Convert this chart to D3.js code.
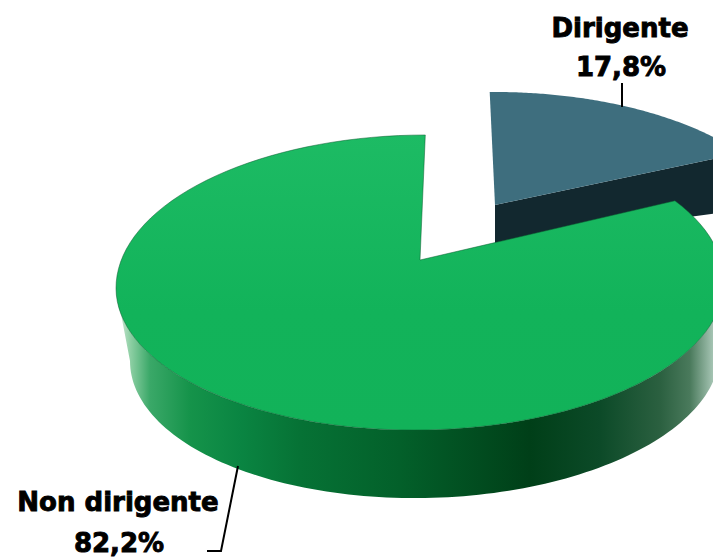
<!DOCTYPE html>
<html>
<head>
<meta charset="utf-8">
<script src="https://cdn.jsdelivr.net/npm/d3@7"></script>
<style>
  html, body { margin: 0; padding: 0; background: #fff; overflow: hidden; }
  text { font-family: "DejaVu Sans", sans-serif; font-weight: bold; font-size: 26px; fill: #000; stroke: #000; stroke-width: 0.9px; text-anchor: middle; }
</style>
</head>
<body>
<script>
// data
const categories = ["Non dirigente", "Dirigente"]
const values = [82.2, 17.8]
const valueLabels = ["82,2%", "17,8%"]

const width = 713
const height = 558

// picture angle (degrees) each slice sweeps once the 3d view has distorted it
const sweeps = [[57, 361], [359, 414]]
const topColors = ["url(#greenTop)", "#3e6e7e"]
const wallColors = ["url(#greenWall)", "#12282f"]

// ellipses of the rim, top face and bottom face
const greenTop = { cx: 420, cy: 285, rx: 304, ryBack: 150, ryFront: 145, tilt: -3 }
const greenBottom = { cx: 425, cy: 356, rx: 295, ryBack: 142, ryFront: 142, tilt: -5 }
const blueTop = { cx: 495, cy: 240, rx: 304, ryBack: 148, ryFront: 148, tilt: 0 }
const greenApex = [420, 260]
const blueApex = [495, 205]
const blueDepth = 38

const svg = d3.select("body").append("svg")
    .attr("width", width)
    .attr("height", height)

const defs = svg.append("defs")

defs.append("linearGradient")
    .attr("id", "greenTop")
    .attr("gradientUnits", "userSpaceOnUse")
    .attr("x1", 0).attr("y1", 133).attr("x2", 0).attr("y2", 430)
    .selectAll("stop")
    .data([[0, "#1dbb64"], [0.6, "#12b35a"], [1, "#12b259"]])
    .join("stop")
    .attr("offset", d => d[0])
    .attr("stop-color", d => d[1])

const wallStops = [
    [118, "#d4e9da"], [130, "#8fd0a5"], [150, "#3aa868"], [190, "#15934a"],
    [240, "#0a8542"], [300, "#067235"], [400, "#03602a"], [530, "#003f18"],
    [600, "#0c4a28"], [660, "#2b6040"], [690, "#4a7a5c"], [713, "#a5c4b3"]
]
const stopScale = d3.scaleLinear().domain([118, 713]).range([0, 1])

defs.append("linearGradient")
    .attr("id", "greenWall")
    .attr("gradientUnits", "userSpaceOnUse")
    .attr("x1", 118).attr("y1", 0).attr("x2", 713).attr("y2", 0)
    .selectAll("stop")
    .data(wallStops)
    .join("stop")
    .attr("offset", d => stopScale(d[0]))
    .attr("stop-color", d => d[1])

function rimPoint(e, deg) {
    const a = deg * Math.PI / 180
    const c = Math.cos(a)
    const s = Math.sin(a)
    return [e.cx + e.rx * s, e.cy - c * (c > 0 ? e.ryBack : e.ryFront) + e.tilt * s]
}

function rimPoints(e, from, to) {
    return d3.range(0, 121).map(i => rimPoint(e, from + (to - from) * i / 120))
}

const line = d3.line()

const arcs = d3.pie().sort(null).value(d => d)(values)
const sweepScale = arcs.map((d, i) => d3.scaleLinear().domain([d.startAngle, d.endAngle]).range(sweeps[i]))

// blue slice first, it sits behind the green one
const blue = arcs[1]
const b0 = sweepScale[1](blue.startAngle)
const b1 = sweepScale[1](blue.endAngle)
const blueEnd = rimPoint(blueTop, b1)

svg.append("path")
    .attr("d", line([blueApex, blueEnd, [blueEnd[0], blueEnd[1] + blueDepth * 1.5], [blueApex[0], blueApex[1] + blueDepth]]) + "Z")
    .attr("fill", wallColors[1])

svg.append("path")
    .attr("d", line([blueApex].concat(rimPoints(blueTop, b0, b1))) + "Z")
    .attr("fill", topColors[1])

// green wall: only the front part of the rim shows
svg.append("path")
    .attr("d", line(rimPoints(greenTop, 90, 270).concat(rimPoints(greenBottom, 270, 90))) + "Z")
    .attr("fill", wallColors[0])

const green = arcs[0]
svg.append("path")
    .attr("d", line([greenApex].concat(rimPoints(greenTop, sweepScale[0](green.startAngle), sweepScale[0](green.endAngle)))) + "Z")
    .attr("fill", topColors[0])
    .attr("stroke", "#0b5a2e")
    .attr("stroke-width", 0.5)

// leader lines
svg.append("path")
    .attr("d", line([[622, 83], [622, 107]]))
    .attr("fill", "none").attr("stroke", "#000").attr("stroke-width", 2)

svg.append("path")
    .attr("d", line([[238, 466], [221, 551], [207, 551]]))
    .attr("fill", "none").attr("stroke", "#000").attr("stroke-width", 2)

// labels
svg.append("text").attr("x", 620).attr("y", 37).text(categories[1])
svg.append("text").attr("x", 621).attr("y", 76).text(valueLabels[1])
svg.append("text").attr("x", 118).attr("y", 511).text(categories[0])
svg.append("text").attr("x", 119).attr("y", 552).text(valueLabels[0])
</script>
</body>
</html>
